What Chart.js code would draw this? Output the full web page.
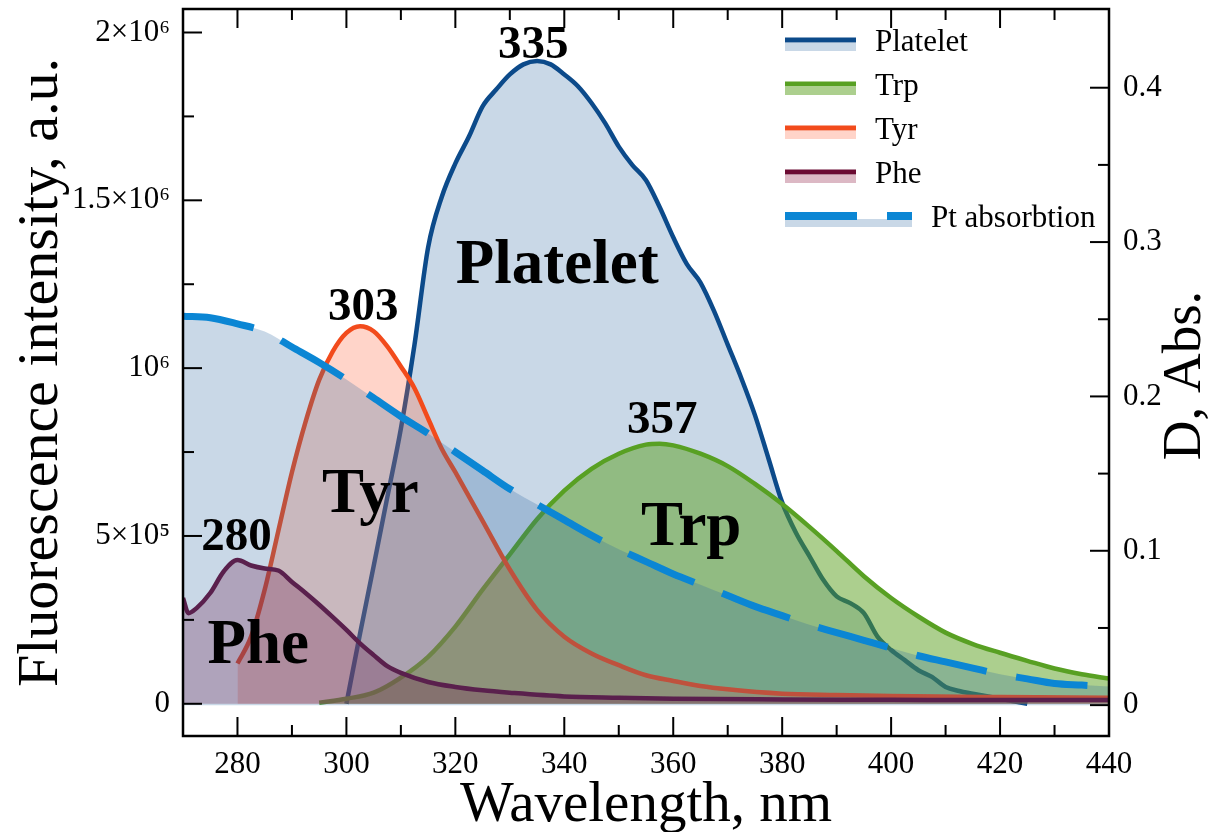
<!DOCTYPE html>
<html>
<head>
<meta charset="utf-8">
<title>Platelet fluorescence</title>
<script src="https://cdn.jsdelivr.net/npm/chart.js@4.4.1/dist/chart.umd.min.js"></script>
<style>
  html, body { margin: 0; padding: 0; background: #fff; }
</style>
</head>
<body>
<canvas id="mainChart" width="1222" height="832"></canvas>
<script>
// Emission spectra (nm, a.u.) and Pt absorption (nm, D)
const plateletNm = [300, 302.5, 305, 307.5, 310, 312.5, 315, 317.5, 320, 322.5, 325, 327.5, 330, 332.5, 335, 337.5, 340, 342.5, 345, 347.5, 350, 352.5, 355, 357.5, 360, 362.5, 365, 367.5, 370, 372.5, 375, 377.5, 380, 382.5, 385, 387.5, 390, 392.5, 395, 397.5, 400, 402.5, 405, 407.5, 410, 412.5, 415, 420, 425];
const plateletI = [0, 209000, 410000, 615000, 820000, 1070000, 1360000, 1510000, 1610000, 1690000, 1780000, 1830000, 1875000, 1905000, 1915000, 1905000, 1875000, 1840000, 1790000, 1730000, 1660000, 1605000, 1560000, 1480000, 1390000, 1310000, 1255000, 1170000, 1070000, 970000, 860000, 730000, 600000, 510000, 440000, 370000, 320000, 300000, 270000, 200000, 160000, 130000, 100000, 80000, 50000, 38000, 30000, 15000, 0];

const trpNm = [295, 300, 305, 310, 315, 320, 325, 330, 335, 340, 345, 350, 355, 357.5, 360, 365, 370, 375, 380, 385, 390, 395, 400, 405, 410, 415, 420, 425, 430, 435, 440];
const trpI = [3000, 15000, 33000, 78000, 140000, 230000, 340000, 445000, 550000, 635000, 700000, 745000, 772000, 775000, 770000, 745000, 708000, 655000, 595000, 527000, 455000, 380000, 315000, 260000, 212000, 178000, 152000, 128000, 105000, 88000, 75000];

const tyrNm = [280, 282.5, 285, 287.5, 290, 292.5, 295, 297.5, 300, 302.5, 305, 307.5, 310, 312.5, 315, 317.5, 320, 325, 330, 335, 340, 345, 350, 355, 360, 365, 370, 380, 390, 400, 420, 440];
const tyrI = [120000, 200000, 340000, 515000, 690000, 840000, 965000, 1050000, 1105000, 1125000, 1110000, 1065000, 1005000, 940000, 850000, 760000, 690000, 545000, 400000, 280000, 200000, 150000, 115000, 85000, 68000, 53000, 43000, 30000, 26000, 23000, 20000, 18000];

const pheNm = [270, 271, 272.5, 275, 277.5, 280, 282.5, 285, 287.5, 290, 292.5, 295, 297.5, 300, 302.5, 305, 307.5, 310, 315, 320, 325, 330, 340, 350, 360, 380, 400, 420, 440];
const pheI = [315000, 270000, 285000, 330000, 395000, 428000, 412000, 403000, 397000, 363000, 330000, 295000, 258000, 220000, 180000, 145000, 112000, 92000, 65000, 50000, 40000, 33000, 22000, 18000, 15000, 13000, 12000, 11000, 11000];

const ptNm = [270, 275, 280, 285, 290, 295, 300, 305, 310, 315, 320, 325, 330, 335, 340, 345, 350, 355, 360, 365, 370, 375, 380, 385, 390, 395, 400, 405, 410, 415, 420, 425, 430, 435, 440];
const ptAbs = [0.252, 0.251, 0.247, 0.242, 0.232, 0.222, 0.211, 0.199, 0.187, 0.176, 0.164, 0.152, 0.140, 0.130, 0.120, 0.110, 0.101, 0.093, 0.085, 0.078, 0.071, 0.064, 0.058, 0.052, 0.047, 0.042, 0.037, 0.032, 0.028, 0.024, 0.020, 0.017, 0.014, 0.013, 0.012];

const leftTickValues = [0, 500000, 1000000, 1500000, 2000000];
const leftTickLabels = ['0', '5×10⁵', '10⁶', '1.5×10⁶', '2×10⁶'];
const rightTickValues = [0, 0.1, 0.2, 0.3, 0.4];

const serif = '"Liberation Serif", "Times New Roman", serif';
Chart.defaults.font.family = serif;
Chart.defaults.color = '#000';

// text placed on the plot, in data coordinates of the left axis
const annotations = [
    { text: '335', nm: 334.3, at: 1925000, size: 47 },
    { text: '303', nm: 303.1, at: 1144000, size: 47 },
    { text: '357', nm: 358.0, at: 807000, size: 47 },
    { text: '280', nm: 279.8, at: 458000, size: 47 },
    { text: 'Platelet', nm: 338.7, at: 1254000, size: 63 },
    { text: 'Tyr', nm: 304.4, at: 571000, size: 63 },
    { text: 'Trp', nm: 363.3, at: 473000, size: 63 },
    { text: 'Phe', nm: 283.8, at: 121000, size: 63 }
];

function pointsOf(nm, vals) {
    return nm.map((x, i) => ({ x: x, y: vals[i] }));
}

function minorValues(scale) {
    const majors = scale.ticks.map(t => t.value);
    const step = majors[1] - majors[0];
    const out = [];
    majors.forEach(v => out.push(v - step / 2));
    out.push(majors[majors.length - 1] + step / 2);
    return out.filter(v => v > scale.min && v < scale.max);
}

// frame with inward ticks, legend, labels and the right axis title
const framePlugin = {
    id: 'frame',
    afterDatasetsDraw(chart) {
        const ctx = chart.ctx;
        const a = chart.chartArea;
        const sx = chart.scales.x, sy = chart.scales.y, sr = chart.scales.y1;
        ctx.save();
        ctx.strokeStyle = '#000';
        ctx.lineWidth = 2;
        const near = (p, lo, hi) => p < lo + 4 || p > hi - 4;
        const xTick = (v, len) => {
            const p = sx.getPixelForValue(v);
            if (near(p, a.left, a.right)) return;
            ctx.beginPath();
            ctx.moveTo(p, a.bottom); ctx.lineTo(p, a.bottom - len);
            ctx.moveTo(p, a.top); ctx.lineTo(p, a.top + len);
            ctx.stroke();
        };
        const yTick = (scale, v, len, fromRight) => {
            const p = scale.getPixelForValue(v);
            if (near(p, a.top, a.bottom)) return;
            const x0 = fromRight ? a.right : a.left;
            ctx.beginPath();
            ctx.moveTo(x0, p); ctx.lineTo(fromRight ? x0 - len : x0 + len, p);
            ctx.stroke();
        };
        sx.ticks.forEach(t => xTick(t.value, 19));
        minorValues(sx).forEach(v => xTick(v, 11));
        sy.ticks.forEach(t => yTick(sy, t.value, 19, false));
        minorValues(sy).forEach(v => yTick(sy, v, 11, false));
        sr.ticks.forEach(t => yTick(sr, t.value, 19, true));
        minorValues(sr).forEach(v => yTick(sr, v, 11, true));
        ctx.lineWidth = 2.5;
        ctx.strokeRect(a.left, a.top, a.right - a.left, a.bottom - a.top);
        ctx.restore();
    },
    afterDraw(chart) {
        const ctx = chart.ctx;
        const a = chart.chartArea;
        const sx = chart.scales.x, sy = chart.scales.y;
        ctx.save();

        // legend
        ctx.font = '31px ' + serif;
        ctx.textBaseline = 'middle';
        ctx.textAlign = 'left';
        const lx = a.right - 324;
        chart.data.datasets.forEach((ds, i) => {
            const cy = a.top + 34 + i * 44;
            const w = ds.borderDash ? 127 : 71;
            ctx.fillStyle = '#fff';
            ctx.fillRect(lx, cy - 7, w, 16);
            ctx.fillStyle = ds.backgroundColor;
            ctx.fillRect(lx, cy, w, 8);
            ctx.strokeStyle = ds.borderColor;
            ctx.lineWidth = ds.borderDash ? 8 : 5;
            ctx.setLineDash(ds.borderDash || []);
            ctx.beginPath();
            ctx.moveTo(lx, cy - 3);
            ctx.lineTo(lx + w, cy - 3);
            ctx.stroke();
            ctx.setLineDash([]);
            ctx.fillStyle = '#000';
            ctx.fillText(ds.label, lx + w + 19, cy);
        });

        // peak numbers and names
        ctx.textAlign = 'center';
        ctx.textBaseline = 'alphabetic';
        annotations.forEach(n => {
            ctx.font = 'bold ' + n.size + 'px ' + serif;
            ctx.fillText(n.text, sx.getPixelForValue(n.nm), sy.getPixelForValue(n.at));
        });

        // right axis title, reading bottom to top
        ctx.font = '55px ' + serif;
        ctx.translate(a.right + 91, (a.top + a.bottom) / 2 + 3);
        ctx.rotate(-Math.PI / 2);
        ctx.fillText('D, Abs.', 0, 0);
        ctx.restore();
    }
};

const ctx = document.getElementById('mainChart').getContext('2d');
new Chart(ctx, {
    type: 'line',
    data: {
        datasets: [{
            label: 'Platelet',
            data: pointsOf(plateletNm, plateletI),
            yAxisID: 'y',
            borderColor: '#0c4a8a',
            backgroundColor: 'rgba(40, 100, 160, 0.25)',
            borderWidth: 4.5,
            fill: 'origin',
            order: 5
        }, {
            label: 'Trp',
            data: pointsOf(trpNm, trpI),
            yAxisID: 'y',
            borderColor: '#58a023',
            backgroundColor: 'rgba(90, 160, 30, 0.5)',
            borderWidth: 4.5,
            fill: 'origin',
            order: 4
        }, {
            label: 'Tyr',
            data: pointsOf(tyrNm, tyrI),
            yAxisID: 'y',
            borderColor: '#f24b1c',
            backgroundColor: 'rgba(255, 100, 60, 0.28)',
            borderWidth: 4.5,
            fill: 'origin',
            order: 3
        }, {
            label: 'Phe',
            data: pointsOf(pheNm, pheI),
            yAxisID: 'y',
            borderColor: '#6b0a32',
            backgroundColor: 'rgba(140, 20, 60, 0.3)',
            borderWidth: 4.5,
            fill: 'origin',
            order: 2
        }, {
            label: 'Pt absorbtion',
            data: pointsOf(ptNm, ptAbs),
            yAxisID: 'y1',
            borderColor: '#0b86d4',
            backgroundColor: 'rgba(40, 100, 160, 0.25)',
            borderWidth: 7,
            borderDash: [72, 30],
            fill: 'origin',
            order: 1
        }]
    },
    options: {
        responsive: false,
        animation: false,
        events: [],
        layout: { padding: { top: 9, right: 0, bottom: 0, left: 0 } },
        elements: {
            point: { radius: 0 },
            line: { cubicInterpolationMode: 'monotone' }
        },
        plugins: {
            legend: { display: false },
            tooltip: { enabled: false }
        },
        scales: {
            x: {
                type: 'linear',
                min: 270,
                max: 440,
                grid: { display: false, drawTicks: false },
                border: { display: false },
                ticks: { stepSize: 20, includeBounds: false, padding: 10, font: { size: 31 } },
                title: {
                    display: true,
                    text: 'Wavelength, nm',
                    font: { size: 57, lineHeight: 0.9 },
                    padding: { top: 0, bottom: 0 }
                },
                afterFit: s => { s.height = 96; s.paddingLeft = 0; s.paddingRight = 0; }
            },
            y: {
                position: 'left',
                min: -96000,
                max: 2070000,
                grid: { display: false, drawTicks: false },
                border: { display: false },
                afterBuildTicks: s => { s.ticks = leftTickValues.map(v => ({ value: v })); },
                ticks: {
                    padding: 13,
                    font: { size: 31 },
                    callback: v => {
                        const i = leftTickValues.indexOf(v);
                        return i < 0 ? '' : leftTickLabels[i];
                    }
                },
                title: {
                    display: true,
                    text: 'Fluorescence intensity, a.u.',
                    font: { size: 58, lineHeight: 0.9 },
                    padding: { top: 16, bottom: 0 }
                },
                afterFit: s => { s.width = 183; s.paddingTop = 0; s.paddingBottom = 0; }
            },
            y1: {
                position: 'right',
                min: -0.02,
                max: 0.451,
                grid: { display: false, drawTicks: false },
                border: { display: false },
                afterBuildTicks: s => { s.ticks = rightTickValues.map(v => ({ value: v })); },
                ticks: { padding: 14, font: { size: 31 } },
                afterFit: s => { s.width = 113; s.paddingTop = 0; s.paddingBottom = 0; }
            }
        }
    },
    plugins: [framePlugin]
});
</script>
</body>
</html>
